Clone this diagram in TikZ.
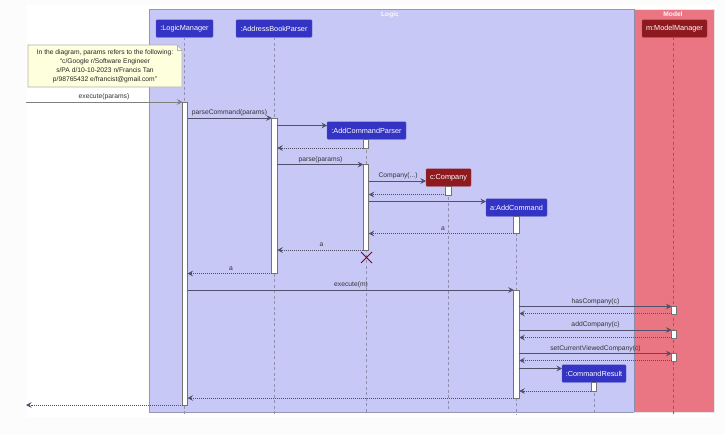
\documentclass[tikz,border=0pt]{standalone}
\usepackage{fontspec}
\setmainfont{Liberation Sans}
\usetikzlibrary{arrows.meta}
\definecolor{logicbg}{HTML}{C8C8F6}
\definecolor{modelbg}{HTML}{E97682}
\definecolor{bluebox}{HTML}{3333C4}
\definecolor{redbox}{HTML}{8E1A1F}
\definecolor{lineink}{HTML}{50506A}
\definecolor{notebg}{HTML}{FEFFDD}
\tikzset{
  actor/.style={rectangle,rounded corners=0.8pt,inner sep=0,outer sep=0,minimum height=17.5pt,text=white,font=\fontsize{7.3}{9}\selectfont},
  bluea/.style={actor,fill=bluebox,draw=bluebox!80!white,line width=0.4pt},
  reda/.style={actor,fill=redbox,draw=redbox!80!white,line width=0.4pt},
  act/.style={rectangle,draw=black!55,fill=white,line width=0.8pt,inner sep=0,outer sep=0,minimum width=5pt},
  life/.style={draw=black!28!logicbg,dash pattern=on 3pt off 2.5pt,line width=0.6pt},
  msg/.style={draw=lineink,line width=0.6pt,-{Stealth[length=5.5pt,width=5.5pt,inset=2pt]}},
  ret/.style={draw=lineink,line width=0.6pt,dash pattern=on 1pt off 1pt,-{Stealth[length=5.5pt,width=5.5pt,inset=2pt]}},
  lab/.style={inner sep=0,text=black!80,font=\fontsize{6.75}{8}\selectfont},
  box/.style={line width=0.8pt},
  title/.style={inner sep=0,text=white!90!logicbg,font=\bfseries\fontsize{6.6}{8}\selectfont},
}
\begin{document}
\begin{tikzpicture}[x=1pt,y=-1pt]
\useasboundingbox (0,0) rectangle (725,434);
\fill[black!1] (0,0) rectangle (725,434);
\fill[white] (26,5) rectangle (716,417);
% boxes
\draw[box,fill=logicbg,draw=black!25!logicbg] (149,9) rectangle (634.5,412);
\draw[box,fill=modelbg,draw=black!10!white] (634.5,9) rectangle (714,412);
\draw[box,draw=black!30!logicbg] (634.5,9) -- (634.5,412);
\node[title] (tlogic) at (390,14.5) {Logic};
\node[title] (tmodel) at (673,14.5) {Model};
% actors
\node[bluea,minimum width=57pt] (lm) at (184.5,28.5) {:LogicManager};
\node[bluea,minimum width=76pt] (abp) at (274,28.5) {:AddressBookParser};
\node[reda,minimum width=65pt] (mm) at (674.5,28.5) {m:ModelManager};
\node[bluea,minimum width=79pt] (acp) at (366.5,130.5) {:AddCommandParser};
\node[reda,minimum width=45pt] (co) at (448.5,177.5) {c:Company};
\node[bluea,minimum width=61pt] (ac) at (516.5,207.5) {a:AddCommand};
\node[bluea,minimum width=64pt] (cr) at (594,373.5) {:CommandResult};
% lifeline ends
\coordinate (lmend) at (184,415);
\coordinate (abpend) at (274,415);
\coordinate (acpend) at (366.5,412);
\coordinate (coend) at (448.5,412);
\coordinate (acend) at (516.5,415);
\coordinate (crend) at (594,415);
\coordinate (mmend) at (673.5,415);
\draw[life] (lm.south -| lmend) -- (lmend);
\draw[life] (abp.south -| abpend) -- (abpend);
\draw[life] (acp.south -| acpend) -- (acpend);
\draw[life] (co.south -| coend) -- (coend);
\draw[life] (ac.south -| acend) -- (acend);
\draw[life] (cr.south -| crend) -- (crend);
\draw[life,draw=black!30!modelbg] (mm.south -| mmend) -- (mmend);
% activations
\node[act,minimum height=303pt] (alm) at (185,253.5) {};
\node[act,minimum height=155.5pt,minimum width=5.5pt] (aabp) at (274.5,195.8) {};
\node[act,minimum height=9pt,minimum width=5.5pt] (aacp1) at (366,143.5) {};
\node[act,minimum height=86pt,minimum width=5.5pt] (aacp2) at (366,207) {};
\node[act,minimum height=9pt,minimum width=5.5pt] (aco) at (448.5,190.5) {};
\node[act,minimum height=17.5pt,minimum width=5.5pt] (aac1) at (516.5,224.8) {};
\node[act,minimum height=108pt,minimum width=5.5pt] (aac2) at (516.5,344) {};
\node[act,minimum height=8pt] (amm1) at (674,310) {};
\node[act,minimum height=8pt] (amm2) at (674,334) {};
\node[act,minimum height=7.5pt] (amm3) at (674,357.5) {};
\node[act,minimum height=9pt,minimum width=5.5pt] (acr) at (594,386.5) {};
% note
\fill[notebg] (28,45) -- (177,45) -- (182,50) -- (182,87) -- (28,87) -- cycle;
\draw[black!30,line width=0.6pt] (28,45) -- (177,45) -- (182,50) -- (182,87) -- (28,87) -- cycle;
\draw[black!30,line width=0.5pt] (177,45) -- (177,50) -- (182,50);
\node[inner sep=0,align=center,text=black!85,font=\fontsize{6.7}{9}\selectfont] (note) at (105,66.5) {In the diagram, params refers to the following:\\``c/Google r/Software Engineer\\s/PA d/10-10-2023 n/Francis Tan\\p/98765432 e/francist@gmail.com''};
% messages
\coordinate (in) at (26,102);
\coordinate (out) at (26,405);
\draw[msg,draw=black!50] (in) -- (alm.west |- in);
\node[lab] (l1) at (104,96.5) {execute(params)};
\draw[msg] (alm.east |- 0,118) -- (aabp.west |- 0,118);
\node[lab] (l2) at (229.5,113) {parseCommand(params)};
\draw[msg] (aabp.east |- 0,125.5) -- (acp.west |- 0,125.5);
\draw[ret] (aacp1.west |- 0,148) -- (aabp.east |- 0,148);
\draw[msg] (aabp.east |- 0,164.5) -- (aacp2.west |- 0,164.5);
\node[lab] (l3) at (320.5,159.5) {parse(params)};
\draw[msg] (aacp2.east |- 0,181) -- (co.west |- 0,181);
\node[lab] (l4) at (398,176) {Company(...)};
\draw[ret] (aco.west |- 0,194.5) -- (aacp2.east |- 0,194.5);
\draw[msg] (aacp2.east |- 0,201.5) -- (ac.west |- 0,201.5);
\draw[ret] (aac1.west |- 0,233.5) -- (aacp2.east |- 0,233.5);
\node[lab] (l5) at (443,228.5) {a};
\draw[ret] (aacp2.west |- 0,250) -- (aabp.east |- 0,250);
\node[lab] (l6) at (321.5,245) {a};
\draw[ret] (aabp.west |- 0,273.5) -- (alm.east |- 0,273.5);
\node[lab] (l7) at (231,268.5) {a};
\draw[msg] (alm.east |- 0,290) -- (aac2.west |- 0,290);
\node[lab] (l8) at (351,285) {execute(m)};
\draw[msg] (aac2.east |- 0,306.5) -- (amm1.west |- 0,306.5);
\node[lab] (l9) at (595.5,301.5) {hasCompany(c)};
\draw[ret] (amm1.west |- 0,313.5) -- (aac2.east |- 0,313.5);
\draw[msg] (aac2.east |- 0,330) -- (amm2.west |- 0,330);
\node[lab] (l10) at (595.5,325) {addCompany(c)};
\draw[ret] (amm2.west |- 0,337.5) -- (aac2.east |- 0,337.5);
\draw[msg] (aac2.east |- 0,353.5) -- (amm3.west |- 0,353.5);
\node[lab] (l11) at (595.5,348.5) {setCurrentViewedCompany(c)};
\draw[ret] (amm3.west |- 0,360.5) -- (aac2.east |- 0,360.5);
\draw[msg] (aac2.east |- 0,368.5) -- (cr.west |- 0,368.5);
\draw[ret] (acr.west |- 0,391) -- (aac2.east |- 0,391);
\draw[ret] (aac2.west |- 0,398) -- (alm.east |- 0,398);
\draw[ret] (alm.west |- out) -- (out);
% destroy mark
\draw[draw=red!60!black!85!blue,line width=0.9pt] (361,252) -- (372,263) (372,252) -- (361,263);
\end{tikzpicture}
\end{document}
